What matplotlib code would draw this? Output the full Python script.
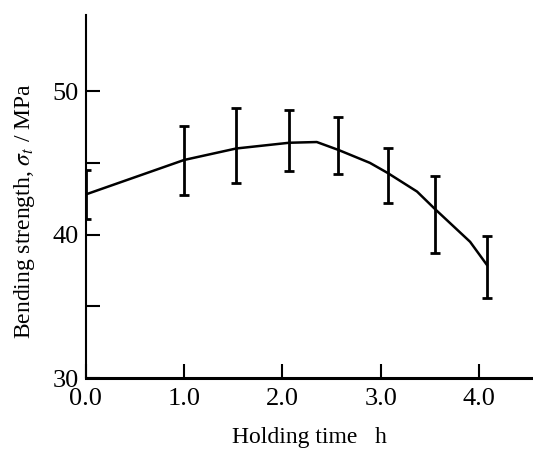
import matplotlib.pyplot as plt
import numpy as np

# data
hours = [0.0, 1.0, 1.53, 2.07, 2.57, 3.07, 3.55, 4.08]
strength = [42.8, 45.2, 46.0, 46.4, 45.9, 44.3, 41.8, 37.9]
err_low = [41.1, 42.75, 43.6, 44.4, 44.2, 42.2, 38.7, 35.6]
err_high = [44.5, 47.6, 48.8, 48.7, 48.2, 46.0, 44.1, 39.9]

# hand-drawn curve through the points (peak between 2.0 and 2.5)
curve_x = [0.0, 0.5, 1.0, 1.53, 2.07, 2.35, 2.57, 2.89, 3.07, 3.37, 3.55, 3.91, 4.08]
curve_y = [42.8, 44.0, 45.2, 46.0, 46.4, 46.45, 45.9, 45.0, 44.3, 43.0, 41.8, 39.5, 37.9]

plt.rcParams['font.family'] = ['Liberation Serif', 'DejaVu Serif']
plt.rcParams['mathtext.fontset'] = 'stix'

fig = plt.figure(figsize=(5.33, 4.54), dpi=100)
ax = fig.add_axes([0.161, 0.167, 0.839, 0.800])

ax.plot(curve_x, curve_y, color='black', lw=1.8)

s = np.array(strength)
yerr = [s - np.array(err_low), np.array(err_high) - s]
ax.errorbar(hours, strength, yerr=yerr, fmt='none', ecolor='black',
            elinewidth=2.0, capsize=3.5, capthick=2.0)

ax.set_xlim(0, 4.55)
ax.set_ylim(30, 55.3)
ax.set_xticks([0, 1, 2, 3, 4], ['0.0', '1.0', '2.0', '3.0', '4.0'])
ax.set_yticks([30, 40, 50])
ax.set_yticks([35, 45], minor=True)
ax.tick_params(axis='both', direction='in', length=10, width=1.5,
               labelsize=19, pad=5)
ax.tick_params(axis='y', which='minor', direction='in', length=10, width=1.5)
ax.tick_params(axis='x', pad=7)

for side in ['top', 'right']:
    ax.spines[side].set_visible(False)
ax.spines['left'].set_linewidth(1.5)
ax.spines['bottom'].set_linewidth(2.2)

ax.set_xlabel('Holding time   h', fontsize=17, labelpad=12)
ax.set_ylabel(r'Bending strength, $\sigma_t$ / MPa', fontsize=17)
ax.yaxis.set_label_coords(-0.11, 0.46)

fig.savefig('out.png', dpi=100)
